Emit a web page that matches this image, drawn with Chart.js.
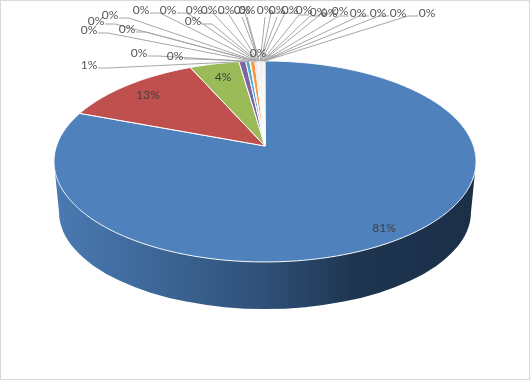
<!DOCTYPE html>
<html>
<head>
<meta charset="utf-8">
<script src="https://cdn.jsdelivr.net/npm/chart.js@4"></script>
<style>
html,body{margin:0;padding:0;background:#fff}
#wrap{position:absolute;left:0;top:0;width:530px;height:380px;overflow:hidden}
#c{position:absolute;left:0;top:0}
#frame{position:absolute;left:0;top:0;width:528px;height:378px;border:1px solid #d9d9d9;pointer-events:none}
</style>
</head>
<body>
<div id="wrap"><canvas id="c" width="530" height="380"></canvas><div id="frame"></div></div>
<script>
const categories = ["1","2","3","4","5","6","7","8","9","10","11","12","13","14","15","16","17","18","19","20","21","22","23","24","25","26","27","28","29","30"];
const values = [80.7,12.6,4.4,0.6,0.35,0.05,0.4,0.04,0.03,0.05,0.04,0.03,0.04,0.05,0.03,0.04,0.03,0.05,0.04,0.03,0.04,0.05,0.03,0.04,0.04,0.03,0.05,0.04,0.03,0.05];
const colors = ["#4F81BD","#C0504D","#9BBB59","#8064A2","#4BACC6","#2C4D75","#F79646","#772C2A","#5F7530","#4D3B62","#276A7C","#B65708","#729ACA","#CD7371","#AFC97A","#9D86B6","#6FBDD1","#F9AE76","#3A659B","#9E3B38","#7F9C40","#664F83","#348EA6","#DE7A0E","#95B3D7","#D99694","#C3D69B","#B3A2C7","#93CDDD","#FAC090"];
// label centres, same order as categories
const labelX = [384,148,223,89,139,175,89,127,96,110,141,168,193,194,209,226,242,247,258,265,277,290,304,318,329,340,358,378,398,427];
const labelY = [228,95,77,65,53,56,30,29,21,15,10,10,21,10,10,10,10,10,53,10,10,10,10,12,13,11,13,13,13,13];

// perspective projection of the pie disc
const view = {cx:265, cy:146, A:208.5, B:98.1, k:0.154};
function project(angle, r){
  const x = Math.cos(angle)*r, y = Math.sin(angle)*r, d = 1 - view.k*y;
  return [view.cx + view.A*x/d, view.cy + view.B*y/d];
}
const pie3d = {
  id:'pie3d',
  beforeDatasetDraw(chart){
    const ctx = chart.ctx, arcs = chart.getDatasetMeta(0).data;
    // side wall
    const g = ctx.createLinearGradient(55,0,475,0);
    g.addColorStop(0,'#4a7ab2');
    g.addColorStop(0.2,'#3f6a9c');
    g.addColorStop(0.5,'#2f5077');
    g.addColorStop(0.72,'#1e3450');
    g.addColorStop(1,'#1b2f48');
    ctx.save();
    ctx.beginPath();
    ctx.moveTo(55,172);
    ctx.lineTo(59,212);
    ctx.ellipse(265,212,206,97,0,Math.PI,0,true);
    ctx.lineTo(475,172);
    ctx.closePath();
    ctx.fillStyle = g;
    ctx.fill();
    // top disc
    arcs.forEach((arc,i)=>{
      const p = arc.getProps(['startAngle','endAngle'],true);
      const n = Math.max(2,Math.ceil((p.endAngle-p.startAngle)/0.01));
      ctx.beginPath();
      ctx.moveTo(view.cx,view.cy);
      for(let s=0;s<=n;s++){
        const q = project(p.startAngle+(p.endAngle-p.startAngle)*s/n,1);
        ctx.lineTo(q[0],q[1]);
      }
      ctx.closePath();
      ctx.fillStyle = colors[i];
      ctx.fill();
      ctx.strokeStyle = '#fff';
      ctx.lineWidth = i<7 ? 1 : 0.6;
      ctx.stroke();
    });
    // leader lines and labels
    const total = values.reduce((a,b)=>a+b,0);
    ctx.font = '12px Lato';
    ctx.textAlign = 'center';
    ctx.textBaseline = 'middle';
    ctx.strokeStyle = '#a6a6a6';
    ctx.lineWidth = 1;
    arcs.forEach((arc,i)=>{
      if(i<3) return;
      const p = arc.getProps(['startAngle','endAngle'],true);
      const a = project((p.startAngle+p.endAngle)/2,1);
      const lx = labelX[i], ly = labelY[i];
      ctx.beginPath();
      if(Math.abs(lx-a[0])<22 && ly<40){
        ctx.moveTo(lx,ly+7);
      }else if(lx<a[0]){
        ctx.moveTo(lx+9,ly+3);
        ctx.lineTo(lx+19,ly+3);
      }else{
        ctx.moveTo(lx-9,ly+3);
        ctx.lineTo(lx-19,ly+3);
      }
      ctx.lineTo(a[0],a[1]);
      ctx.stroke();
    });
    ctx.fillStyle = '#565656';
    arcs.forEach((arc,i)=>{
      ctx.fillStyle = i<3 ? '#404040' : '#565656';
      ctx.fillText(Math.round(values[i]/total*100)+'%',labelX[i],labelY[i]);
    });
    ctx.restore();
    return false;
  }
};
new Chart(document.getElementById('c'),{
  type:'pie',
  data:{labels:categories,datasets:[{data:values,backgroundColor:colors,borderColor:'#fff'}]},
  options:{responsive:false,animation:false,plugins:{legend:{display:false},tooltip:{enabled:false}}},
  plugins:[pie3d]
});
</script>
</body>
</html>
